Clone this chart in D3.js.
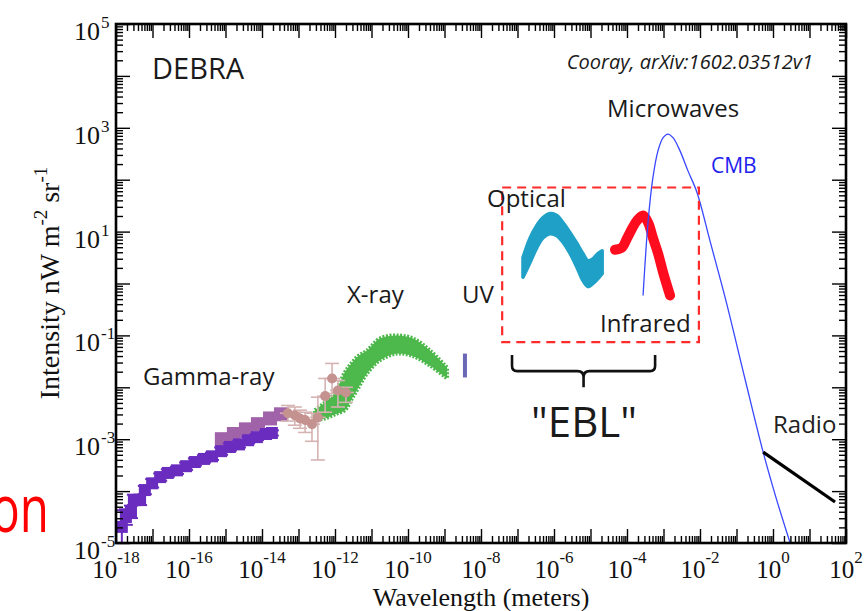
<!DOCTYPE html>
<html><head><meta charset="utf-8">
<script src="https://cdn.jsdelivr.net/npm/d3@7/dist/d3.min.js"></script>
<style>body{margin:0;background:#fff}svg{display:block}</style>
</head><body>
<svg id="chart" width="868" height="611"></svg>
<script>
// ---- data (log10 of wavelength in meters, log10 of intensity in nW m^-2 sr^-1) ----
const xTickExps = [-18,-16,-14,-12,-10,-8,-6,-4,-2,0,2];
const yTickExps = [5,3,1,-1,-3,-5];

const gammaLogL = [-17.84,-17.73,-17.59,-17.51,-17.34,-17.21,-17.01,-16.79,-16.58,-16.33,-16.08,-15.84,-15.59,-15.37,-15.12,-14.88,-14.63,-14.38,-14.14,-13.89,-13.73];
const gammaLogI = [-4.69,-4.50,-4.40,-4.17,-4.17,-3.98,-3.85,-3.73,-3.65,-3.60,-3.52,-3.44,-3.38,-3.33,-3.23,-3.15,-3.10,-3.02,-2.96,-2.90,-2.88];
const gammaErr  = [0.32,0.15,0.12,0.10,0.10,0.08,0.08,0.07,0.07,0.07,0.07,0.07,0.07,0.07,0.07,0.07,0.06,0.06,0.06,0.05,0.05];

const lateLogL = [-15.10,-14.77,-14.44,-14.11,-13.78,-13.48];
const lateLogI = [-3.00,-2.90,-2.81,-2.71,-2.60,-2.52];

const pinkLogL = [-13.29,-13.10,-12.96,-12.82,-12.63,-12.47,-12.27,-12.08,-11.92,-11.70];
const pinkLogI = [-2.50,-2.54,-2.60,-2.63,-2.71,-2.58,-2.17,-1.83,-2.06,-2.10];
const pinkLo   = [-2.65,-2.73,-2.79,-2.87,-3.04,-3.40,-2.48,-2.12,-2.38,-2.29];
const pinkHi   = [-2.35,-2.38,-2.44,-2.48,-2.50,-2.19,-1.83,-1.54,-1.87,-2.00];

const xrayLogL = [-12.55,-12.27,-12.00,-11.73,-11.53,-11.37,-11.12,-10.77,-10.30,-9.86,-9.40,-8.93];
const xrayHi   = [-2.44,-2.29,-2.10,-1.71,-1.52,-1.40,-1.29,-1.06,-1.00,-1.06,-1.29,-1.62];
const xrayLo   = [-2.63,-2.60,-2.52,-2.44,-2.21,-2.02,-1.73,-1.48,-1.35,-1.40,-1.58,-1.83];

const uvLogL = [-8.44];
const uvLogI = [-1.81,-1.35];

const optLogL = [-6.85,-6.66,-6.47,-6.30,-6.11,-5.92,-5.75,-5.56,-5.37,-5.21,-5.07,-4.93,-4.79,-4.68];
const optHi   = [0.50,0.87,1.12,1.27,1.35,1.31,1.17,0.98,0.77,0.58,0.44,0.48,0.58,0.63];
const optLo   = [0.12,0.40,0.69,0.88,0.96,0.92,0.79,0.58,0.31,0.06,-0.06,0.00,0.10,0.19];

const irLogL = [-4.33,-4.14,-4.00,-3.86,-3.73,-3.56,-3.42,-3.29,-3.15,-3.01,-2.82];
const irLogI = [0.65,0.69,0.87,1.06,1.21,1.31,1.17,0.88,0.58,0.21,-0.23];

const cmbLogL = [-3.56,-3.42,-3.29,-3.15,-3.01,-2.88,-2.74,-2.55,-2.33,-2.08,-1.73,-1.29,-0.77,-0.27,0.08,0.47];
const cmbLogI = [-0.23,1.21,2.04,2.56,2.81,2.88,2.81,2.56,2.17,1.75,0.83,-0.33,-1.83,-3.25,-4.12,-5.00];

const radioLogL = [-0.27,1.70];
const radioLogI = [-3.25,-4.21];

const eblBoxLogL = [-7.42,-2.03];
const eblBoxLogI = [-1.13,1.85];
const braceLogL = [-7.15,-3.23];
const braceLogI = [-1.38,-2.00];

// ---- drawing ----
const svg = d3.select("#chart");
const L = 116, R = 846, T = 24, B = 543;
const x = d3.scaleLog().domain([1e-18, 1e2]).range([L, R]);
const y = d3.scaleLog().domain([1e-5, 1e5]).range([B, T]);
const X = e => x(Math.pow(10, e));
const Y = e => y(Math.pow(10, e));
const serif = "'Liberation Serif','Times New Roman',serif";
const sans = "'Open Sans','Noto Sans',sans-serif";

svg.append("defs").append("clipPath").attr("id","plot")
  .append("rect").attr("x",L).attr("y",T).attr("width",R-L).attr("height",B-T);
const plot = svg.append("g").attr("clip-path","url(#plot)");

// light purple squares behind
plot.selectAll(".lp").data(lateLogL).join("rect")
  .attr("x",(d)=>X(d)-7).attr("y",(d,i)=>Y(lateLogI[i])-7)
  .attr("width",14).attr("height",14).attr("fill","#a062a8");

// dark purple gamma-ray
gammaLogL.forEach((d,i)=>{
  const cx = X(d);
  const y0 = Y(gammaLogI[i]-gammaErr[i]), y1 = Y(gammaLogI[i]+gammaErr[i]);
  const g = plot.append("g").attr("stroke","#6a2cbf").attr("stroke-width",2);
  g.append("line").attr("x1",cx).attr("x2",cx).attr("y1",y0).attr("y2",y1);
  g.append("line").attr("x1",cx-7).attr("x2",cx+7).attr("y1",y0).attr("y2",y0);
  g.append("line").attr("x1",cx-7).attr("x2",cx+7).attr("y1",y1).attr("y2",y1);
});
plot.selectAll(".gp").data(gammaLogL).join("rect")
  .attr("x",(d)=>X(d)-6).attr("y",(d,i)=>Y(gammaLogI[i])-6)
  .attr("width",12).attr("height",12).attr("fill","#6a2cbf");

// x-ray band
const band = d3.area().curve(d3.curveCatmullRom)
  .x(d=>X(d[0])).y0(d=>Y(d[1])).y1(d=>Y(d[2]));
plot.append("path").datum(xrayLogL.map((d,i)=>[d,xrayLo[i],xrayHi[i]]))
  .attr("d",band).attr("fill","#4db84b").attr("stroke","#4db84b").attr("stroke-width",4)
  .attr("stroke-dasharray","2,1.5");

// pink points with error bars
pinkLogL.forEach((d,i)=>{
  const cx = X(d), y0 = Y(pinkLo[i]), y1 = Y(pinkHi[i]);
  const g = plot.append("g").attr("stroke","#d6b3b3").attr("stroke-width",1.6);
  g.append("line").attr("x1",cx).attr("x2",cx).attr("y1",y0).attr("y2",y1);
  g.append("line").attr("x1",cx-7).attr("x2",cx+7).attr("y1",y0).attr("y2",y0);
  g.append("line").attr("x1",cx-7).attr("x2",cx+7).attr("y1",y1).attr("y2",y1);
  g.append("line").attr("x1",cx-8).attr("x2",cx+8).attr("y1",Y(pinkLogI[i])).attr("y2",Y(pinkLogI[i]));
});
plot.selectAll(".pk").data(pinkLogL).join("circle")
  .attr("cx",d=>X(d)).attr("cy",(d,i)=>Y(pinkLogI[i])).attr("r",5).attr("fill","#c4928f");

// UV bar
plot.append("rect").attr("x",X(uvLogL[0])-2).attr("y",Y(uvLogI[1]))
  .attr("width",4).attr("height",Y(uvLogI[0])-Y(uvLogI[1])).attr("fill","#6b68b6");

// optical band
plot.append("path").datum(optLogL.map((d,i)=>[d,optLo[i],optHi[i]]))
  .attr("d",band).attr("fill","#1fa0c6").attr("stroke","#1fa0c6").attr("stroke-width",3.5)
  .attr("stroke-linejoin","round");

// infrared
const line = d3.line().curve(d3.curveCatmullRom).x(d=>X(d[0])).y(d=>Y(d[1]));
plot.append("path").datum(irLogL.map((d,i)=>[d,irLogI[i]]))
  .attr("d",line).attr("fill","none").attr("stroke","#ff0d1f").attr("stroke-width",10)
  .attr("stroke-linecap","round").attr("stroke-linejoin","round");

// CMB
plot.append("path").datum(cmbLogL.map((d,i)=>[d,cmbLogI[i]]))
  .attr("d",line).attr("fill","none").attr("stroke","#3848ff").attr("stroke-width",1.3);

// radio
plot.append("path").datum(radioLogL.map((d,i)=>[d,radioLogI[i]]))
  .attr("d",d3.line().x(d=>X(d[0])).y(d=>Y(d[1]))).attr("fill","none")
  .attr("stroke","#000").attr("stroke-width",3.2);

// EBL dashed box
svg.append("rect").attr("x",X(eblBoxLogL[0])).attr("y",Y(eblBoxLogI[1]))
  .attr("width",X(eblBoxLogL[1])-X(eblBoxLogL[0])).attr("height",Y(eblBoxLogI[0])-Y(eblBoxLogI[1]))
  .attr("fill","none").attr("stroke","#ff2a2a").attr("stroke-width",2.2).attr("stroke-dasharray","9,6");

// brace
{
  const xl = X(braceLogL[0]), xr = X(braceLogL[1]), xm = (xl+xr)/2;
  const yt = Y(braceLogI[0]), yTip = Y(braceLogI[1]), ym = yt + 16;
  const p = `M${xl},${yt} L${xl},${ym-5} Q${xl},${ym} ${xl+5},${ym} L${xm-6},${ym} Q${xm},${ym} ${xm},${ym+6} L${xm},${yTip}`+
            ` M${xm},${ym+6} Q${xm},${ym} ${xm+6},${ym} L${xr-5},${ym} Q${xr},${ym} ${xr},${ym-5} L${xr},${yt}`;
  svg.append("path").attr("d",p).attr("fill","none").attr("stroke","#111").attr("stroke-width",2.6);
}

// ---- axes / ticks ----
function tickVals(d0,d1){
  const major=[],minor=[];
  for(let d=d0; d<=d1; d++){
    major.push(Math.pow(10,d));
    if(d<d1) for(let k=2;k<=9;k++) minor.push(k*Math.pow(10,d));
  }
  return {major,minor};
}
const xt = tickVals(-18,2), yt = tickVals(-5,5);
function ax(gen, vals, size, tr){
  const g = svg.append("g").attr("transform",tr)
    .call(gen.tickValues(vals).tickSize(size).tickSizeOuter(0).tickFormat(""));
  g.select(".domain").remove();
  g.selectAll(".tick line").attr("stroke","#000").attr("stroke-width",1.4);
}
ax(d3.axisBottom(x), xt.minor, -7, `translate(0,${B})`);
ax(d3.axisBottom(x), xt.major, -14, `translate(0,${B})`);
ax(d3.axisTop(x), xt.minor, -7, `translate(0,${T})`);
ax(d3.axisTop(x), xt.major, -14, `translate(0,${T})`);
ax(d3.axisLeft(y), yt.minor, -7, `translate(${L},0)`);
ax(d3.axisLeft(y), yt.major, -14, `translate(${L},0)`);
ax(d3.axisRight(y), yt.minor, -7, `translate(${R},0)`);
ax(d3.axisRight(y), yt.major, -14, `translate(${R},0)`);
svg.append("rect").attr("x",L).attr("y",T).attr("width",R-L).attr("height",B-T)
  .attr("fill","none").attr("stroke","#000").attr("stroke-width",2.6);

// tick labels
xTickExps.forEach(e=>{
  const t = svg.append("text").attr("x",X(e)).attr("y",578).attr("text-anchor","middle")
    .attr("font-family",serif).attr("font-size",25).attr("fill","#111");
  t.append("tspan").text("10");
  t.append("tspan").attr("dy",-15).attr("font-size",17).text(String(e));
});
yTickExps.forEach(e=>{
  const yy = Y(e);
  svg.append("text").attr("x",100).attr("y",yy+16).attr("text-anchor","end")
    .attr("font-family",serif).attr("font-size",26).attr("fill","#111").text("10");
  svg.append("text").attr("x",101).attr("y",yy+4).attr("text-anchor","start")
    .attr("font-family",serif).attr("font-size",17).attr("fill","#111").text(String(e));
});

// axis titles
{
  const t = svg.append("text").attr("transform","translate(59,283) rotate(-90)")
    .attr("text-anchor","middle").attr("font-family",serif).attr("font-size",28).attr("fill","#111");
  t.append("tspan").text("Intensity nW m");
  t.append("tspan").attr("dy",-12).attr("font-size",19).text("-2");
  t.append("tspan").attr("dy",12).text(" sr");
  t.append("tspan").attr("dy",-12).attr("font-size",19).text("-1");
}
svg.append("text").attr("x",481).attr("y",606).attr("text-anchor","middle")
  .attr("font-family",serif).attr("font-size",26).attr("fill","#111").text("Wavelength (meters)");

// annotations
function lab(s,xx,yy,size,opt={}){
  return svg.append("text").attr("x",xx).attr("y",yy).attr("font-family",sans)
    .attr("font-size",size).attr("fill",opt.fill||"#1a1a1a")
    .attr("text-anchor",opt.anchor||"start").attr("font-style",opt.style||"normal").text(s);
}
lab("DEBRA",152,79,29);
lab("Cooray, arXiv:1602.03512v1",813,69,20,{anchor:"end",style:"italic"});
lab("Microwaves",607,117,24);
lab("CMB",711,173,21,{fill:"#2222ee"});
lab("Optical",487,207,24);
lab("X-ray",347,303,24);
lab("UV",462,303,24);
lab("Infrared",600,332,24);
lab("Gamma-ray",143,385,24);
lab("\"EBL\"",584,437,42,{anchor:"middle"});
lab("Radio",773,433,24,{fill:"#222"});

svg.append("text").attr("transform","translate(49,532) scale(0.72,1)")
  .attr("text-anchor","end").attr("font-family",sans).attr("font-size",66)
  .attr("fill","#ff0000").text("on");
</script>
</body></html>
